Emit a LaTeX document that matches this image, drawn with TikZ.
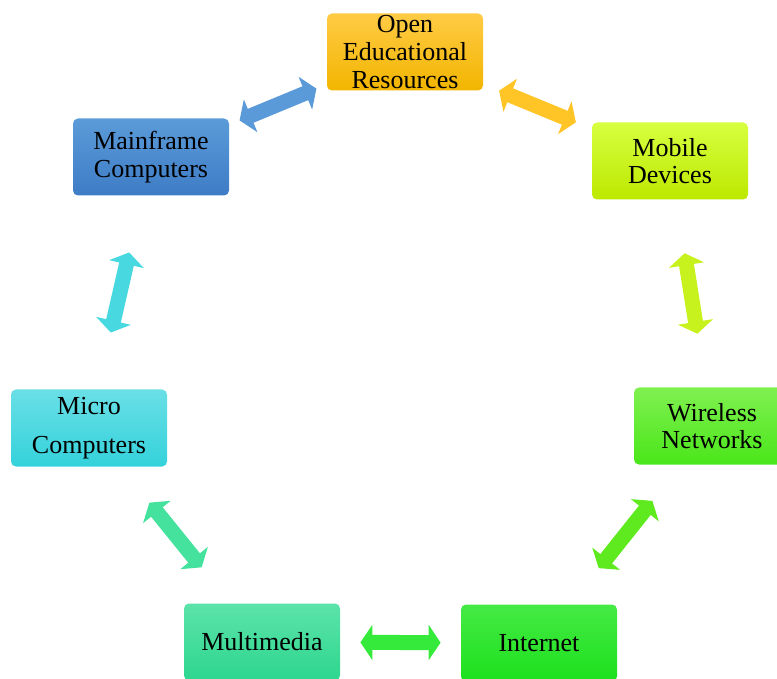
\documentclass[tikz,border=0pt]{standalone}
\usepackage{fontspec}
\setmainfont{Liberation Serif}
\usepackage{xcolor}
\usetikzlibrary{arrows.meta}
\definecolor{mainT}{HTML}{5B9BD8}
\definecolor{mainB}{HTML}{3E7CC6}
\definecolor{oerT}{HTML}{FFCB45}
\definecolor{oerB}{HTML}{F2B500}
\definecolor{mobT}{HTML}{D8FF40}
\definecolor{mobB}{HTML}{BCE800}
\definecolor{wirT}{HTML}{80F050}
\definecolor{wirB}{HTML}{4AE61A}
\definecolor{intT}{HTML}{45EA45}
\definecolor{intB}{HTML}{1CE01C}
\definecolor{mulT}{HTML}{5CE3AA}
\definecolor{mulB}{HTML}{2DD68E}
\definecolor{micT}{HTML}{6ADFE6}
\definecolor{micB}{HTML}{34D2DB}
\definecolor{arA}{HTML}{5A9AD8}
\definecolor{arB}{HTML}{FFC425}
\definecolor{arC}{HTML}{C8F21E}
\definecolor{arD}{HTML}{5EEA1E}
\definecolor{arE}{HTML}{35EA3A}
\definecolor{arF}{HTML}{45E29E}
\definecolor{arG}{HTML}{48D8E0}
\tikzset{
  era/.style={rounded corners=2.5pt,minimum width=78pt,minimum height=38.5pt,
              inner sep=0pt,align=center,text=black,
              font=\fontsize{13}{13.8}\selectfont},
  link/.style={{Triangle[width=17.5pt,length=6pt]}-{Triangle[width=17.5pt,length=6pt]},
               line width=7.5pt},
}

\begin{document}
\begin{tikzpicture}[x=0.5pt,y=-0.5pt]
  \useasboundingbox (0,0) rectangle (777,679);
  % eras of computing
  \node[era,top color=oerT,bottom color=oerB](oer) at (405,52){Open\\Educational\\Resources};
  \node[era,top color=mobT,bottom color=mobB](mobile) at (670,161){Mobile\\Devices};
  \node[era,top color=wirT,bottom color=wirB](wireless) at (712,426){Wireless\\Networks};
  \node[era,top color=intT,bottom color=intB](internet) at (539,643){Internet};
  \node[era,top color=mulT,bottom color=mulB](multimedia) at (262,642){Multimedia};
  \node[era,top color=micT,bottom color=micB](micro) at (89,428){Micro\\[6pt]Computers};
  \node[era,top color=mainT,bottom color=mainB](mainframe) at (151,157){Mainframe\\Computers};
  % block arrows
  \foreach \a/\b/\c/\s in {mainframe/oer/arA/5.5pt, oer/mobile/arB/8.5pt,
      mobile/wireless/arC/27pt, wireless/internet/arD/23pt,
      internet/multimedia/arE/10pt, multimedia/micro/arF/23pt,
      micro/mainframe/arG/29pt}
    \draw[link,\c,shorten <=\s,shorten >=\s] (\a) -- (\b);
\end{tikzpicture}
\end{document}
